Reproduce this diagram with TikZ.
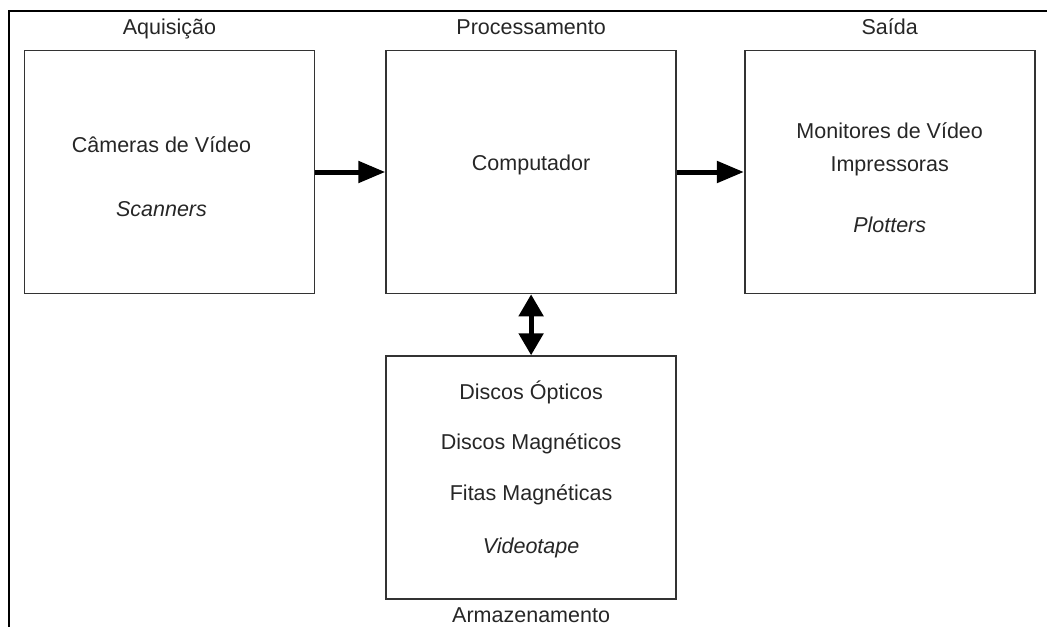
\documentclass[tikz,border=0pt]{standalone}
\usepackage{fontspec}
\setmainfont{Liberation Sans}
\usetikzlibrary{positioning,arrows.meta}

\tikzset{
	box/.style={draw=black!80, line width=1.6pt, minimum width=290pt, minimum height=243pt, inner sep=0pt},
	txt/.style={font=\fontsize{21.5}{25}\selectfont, text=black!85, inner sep=0pt, text height=15pt, text depth=4.5pt},
	flow/.style={line width=5pt, -{Triangle[length=27pt,width=21pt]}},
	link/.style={line width=5pt, {Triangle[length=22pt,width=24pt]}-{Triangle[length=22pt,width=24pt]}}
}

\begin{document}
\begin{tikzpicture}[x=1pt, y=-1pt]
	\useasboundingbox (0,0) rectangle (1047,627);
	% Frame
	\draw[line width=2.5pt] (1047,11) -- (9,11) -- (9,627);

	% Nodes
	% Stage boxes
	\node[box] (acq) at (169.5,172) {};
	\node[box, right=70pt of acq] (proc) {};
	\node[box, right=67pt of proc] (out) {};
	\node[box, below=61pt of proc] (arm) {};

	% Stage titles
	\node[txt, above=11pt of acq] (acq-t) {Aquisição};
	\node[txt, above=11pt of proc] (proc-t) {Processamento};
	\node[txt, above=11pt of out] (out-t) {Saída};
	\node[txt, below=7pt of arm] (arm-t) {Armazenamento};

	% Acquisition devices
	\node[txt, yshift=25pt, xshift=-8pt] (cam) at (acq) {Câmeras de Vídeo};
	\node[txt, yshift=-39pt, xshift=-8pt] (scan) at (acq) {\itshape Scanners};
	% Processing
	\node[txt, yshift=7pt] (comp) at (proc) {Computador};
	% Output devices
	\node[txt, yshift=39pt] (mon) at (out) {Monitores de Vídeo};
	\node[txt, yshift=6pt] (imp) at (out) {Impressoras};
	\node[txt, yshift=-55pt] (plot) at (out) {\itshape Plotters};
	% Storage devices
	\node[txt, yshift=83pt] (opt) at (arm) {Discos Ópticos};
	\node[txt, yshift=33pt] (mag) at (arm) {Discos Magnéticos};
	\node[txt, yshift=-18pt] (fit) at (arm) {Fitas Magnéticas};
	\node[txt, yshift=-71pt] (vid) at (arm) {\itshape Videotape};

	% Edges
	\draw[flow] (acq) -- (proc);
	\draw[flow] (proc) -- (out);
	\draw[link] (proc) -- (arm);
\end{tikzpicture}
\end{document}
